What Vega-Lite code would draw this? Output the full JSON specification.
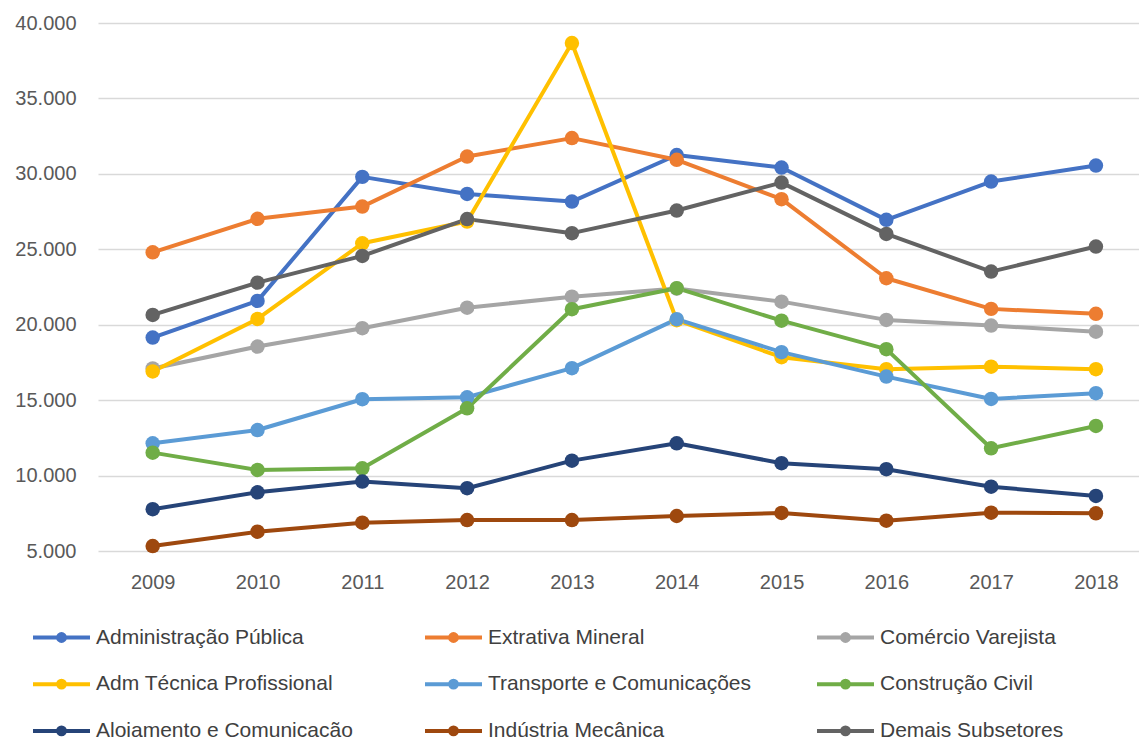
{
  "$schema": "https://vega.github.io/schema/vega-lite/v6.json",
  "autosize": {"type": "none"},
  "padding": {"left": 98, "top": 23, "right": 0, "bottom": 186},
  "width": 1041,
  "height": 528,
  "background": "white",
  "config": {
    "view": {"stroke": null},
    "font": "Liberation Sans"
  },
  "data": {
    "values": [
      {"year": 2009, "serie": "Administração Pública", "value": 19150},
      {"year": 2010, "serie": "Administração Pública", "value": 21580},
      {"year": 2011, "serie": "Administração Pública", "value": 29800},
      {"year": 2012, "serie": "Administração Pública", "value": 28670},
      {"year": 2013, "serie": "Administração Pública", "value": 28160},
      {"year": 2014, "serie": "Administração Pública", "value": 31250},
      {"year": 2015, "serie": "Administração Pública", "value": 30420},
      {"year": 2016, "serie": "Administração Pública", "value": 26950},
      {"year": 2017, "serie": "Administração Pública", "value": 29490},
      {"year": 2018, "serie": "Administração Pública", "value": 30550},
      {"year": 2009, "serie": "Extrativa Mineral", "value": 24800},
      {"year": 2010, "serie": "Extrativa Mineral", "value": 27020},
      {"year": 2011, "serie": "Extrativa Mineral", "value": 27830},
      {"year": 2012, "serie": "Extrativa Mineral", "value": 31150},
      {"year": 2013, "serie": "Extrativa Mineral", "value": 32370},
      {"year": 2014, "serie": "Extrativa Mineral", "value": 30930},
      {"year": 2015, "serie": "Extrativa Mineral", "value": 28320},
      {"year": 2016, "serie": "Extrativa Mineral", "value": 23080},
      {"year": 2017, "serie": "Extrativa Mineral", "value": 21050},
      {"year": 2018, "serie": "Extrativa Mineral", "value": 20720},
      {"year": 2009, "serie": "Comércio Varejista", "value": 17100},
      {"year": 2010, "serie": "Comércio Varejista", "value": 18550},
      {"year": 2011, "serie": "Comércio Varejista", "value": 19770},
      {"year": 2012, "serie": "Comércio Varejista", "value": 21130},
      {"year": 2013, "serie": "Comércio Varejista", "value": 21860},
      {"year": 2014, "serie": "Comércio Varejista", "value": 22400},
      {"year": 2015, "serie": "Comércio Varejista", "value": 21530},
      {"year": 2016, "serie": "Comércio Varejista", "value": 20320},
      {"year": 2017, "serie": "Comércio Varejista", "value": 19940},
      {"year": 2018, "serie": "Comércio Varejista", "value": 19540},
      {"year": 2009, "serie": "Adm Técnica Profissional", "value": 16900},
      {"year": 2010, "serie": "Adm Técnica Profissional", "value": 20380},
      {"year": 2011, "serie": "Adm Técnica Profissional", "value": 25400},
      {"year": 2012, "serie": "Adm Técnica Profissional", "value": 26840},
      {"year": 2013, "serie": "Adm Técnica Profissional", "value": 38670},
      {"year": 2014, "serie": "Adm Técnica Profissional", "value": 20300},
      {"year": 2015, "serie": "Adm Técnica Profissional", "value": 17850},
      {"year": 2016, "serie": "Adm Técnica Profissional", "value": 17050},
      {"year": 2017, "serie": "Adm Técnica Profissional", "value": 17220},
      {"year": 2018, "serie": "Adm Técnica Profissional", "value": 17050},
      {"year": 2009, "serie": "Transporte e Comunicações", "value": 12140},
      {"year": 2010, "serie": "Transporte e Comunicações", "value": 13020},
      {"year": 2011, "serie": "Transporte e Comunicações", "value": 15060},
      {"year": 2012, "serie": "Transporte e Comunicações", "value": 15190},
      {"year": 2013, "serie": "Transporte e Comunicações", "value": 17120},
      {"year": 2014, "serie": "Transporte e Comunicações", "value": 20370},
      {"year": 2015, "serie": "Transporte e Comunicações", "value": 18180},
      {"year": 2016, "serie": "Transporte e Comunicações", "value": 16560},
      {"year": 2017, "serie": "Transporte e Comunicações", "value": 15080},
      {"year": 2018, "serie": "Transporte e Comunicações", "value": 15460},
      {"year": 2009, "serie": "Construção Civil", "value": 11520},
      {"year": 2010, "serie": "Construção Civil", "value": 10370},
      {"year": 2011, "serie": "Construção Civil", "value": 10480},
      {"year": 2012, "serie": "Construção Civil", "value": 14460},
      {"year": 2013, "serie": "Construção Civil", "value": 21030},
      {"year": 2014, "serie": "Construção Civil", "value": 22420},
      {"year": 2015, "serie": "Construção Civil", "value": 20270},
      {"year": 2016, "serie": "Construção Civil", "value": 18380},
      {"year": 2017, "serie": "Construção Civil", "value": 11810},
      {"year": 2018, "serie": "Construção Civil", "value": 13290},
      {"year": 2009, "serie": "Alojamento e Comunicação", "value": 7770},
      {"year": 2010, "serie": "Alojamento e Comunicação", "value": 8890},
      {"year": 2011, "serie": "Alojamento e Comunicação", "value": 9600},
      {"year": 2012, "serie": "Alojamento e Comunicação", "value": 9160},
      {"year": 2013, "serie": "Alojamento e Comunicação", "value": 10990},
      {"year": 2014, "serie": "Alojamento e Comunicação", "value": 12140},
      {"year": 2015, "serie": "Alojamento e Comunicação", "value": 10820},
      {"year": 2016, "serie": "Alojamento e Comunicação", "value": 10420},
      {"year": 2017, "serie": "Alojamento e Comunicação", "value": 9260},
      {"year": 2018, "serie": "Alojamento e Comunicação", "value": 8650},
      {"year": 2009, "serie": "Indústria Mecânica", "value": 5330},
      {"year": 2010, "serie": "Indústria Mecânica", "value": 6280},
      {"year": 2011, "serie": "Indústria Mecânica", "value": 6880},
      {"year": 2012, "serie": "Indústria Mecânica", "value": 7050},
      {"year": 2013, "serie": "Indústria Mecânica", "value": 7050},
      {"year": 2014, "serie": "Indústria Mecânica", "value": 7320},
      {"year": 2015, "serie": "Indústria Mecânica", "value": 7520},
      {"year": 2016, "serie": "Indústria Mecânica", "value": 7010},
      {"year": 2017, "serie": "Indústria Mecânica", "value": 7540},
      {"year": 2018, "serie": "Indústria Mecânica", "value": 7500},
      {"year": 2009, "serie": "Demais Subsetores", "value": 20650},
      {"year": 2010, "serie": "Demais Subsetores", "value": 22790},
      {"year": 2011, "serie": "Demais Subsetores", "value": 24560},
      {"year": 2012, "serie": "Demais Subsetores", "value": 27000},
      {"year": 2013, "serie": "Demais Subsetores", "value": 26070},
      {"year": 2014, "serie": "Demais Subsetores", "value": 27570},
      {"year": 2015, "serie": "Demais Subsetores", "value": 29420},
      {"year": 2016, "serie": "Demais Subsetores", "value": 26020},
      {"year": 2017, "serie": "Demais Subsetores", "value": 23520},
      {"year": 2018, "serie": "Demais Subsetores", "value": 25180}
    ]
  },
  "encoding": {
    "x": {
      "field": "year",
      "type": "quantitative",
      "scale": {"domain": [2008.478, 2018.411], "nice": false, "zero": false},
      "axis": {
        "title": null,
        "values": [2009, 2010, 2011, 2012, 2013, 2014, 2015, 2016, 2017, 2018],
        "format": "d",
        "grid": false,
        "ticks": false,
        "domain": false,
        "labelFont": "Liberation Sans",
        "labelFontSize": 20,
        "labelColor": "#595959",
        "labelPadding": 21
      }
    },
    "y": {
      "field": "value",
      "type": "quantitative",
      "scale": {"domain": [5000, 40000], "nice": false, "zero": false},
      "axis": {
        "title": null,
        "values": [5000, 10000, 15000, 20000, 25000, 30000, 35000, 40000],
        "labelExpr": "replace(format(datum.value, ',.0f'), ',', '.')",
        "grid": true,
        "gridColor": "#D9D9D9",
        "gridWidth": 1.3,
        "ticks": false,
        "domain": false,
        "labelFont": "Liberation Sans",
        "labelFontSize": 20,
        "labelColor": "#595959",
        "labelPadding": 22
      }
    },
    "color": {
      "field": "serie",
      "type": "nominal",
      "scale": {
        "domain": ["Administração Pública", "Extrativa Mineral", "Comércio Varejista", "Adm Técnica Profissional", "Transporte e Comunicações", "Construção Civil", "Alojamento e Comunicação", "Indústria Mecânica", "Demais Subsetores"],
        "range": ["#4472C4", "#ED7D31", "#A5A5A5", "#FFC000", "#5B9BD5", "#70AD47", "#264478", "#9E480E", "#636363"]
      },
      "legend": {
        "title": null,
        "orient": "none",
        "legendX": -67,
        "legendY": 584,
        "columns": 3,
        "direction": "horizontal",
        "gridAlign": "all",
        "columnPadding": 57,
        "rowPadding": 4.7,
        "padding": 0,
        "labelFont": "Liberation Sans",
        "labelFontSize": 21,
        "labelColor": "#404040",
        "labelOffset": 4,
        "labelLimit": 400,
        "symbolType": "M-1,0L1,0M-0.12,0A0.12,0.12,0,1,1,0.12,0A0.12,0.12,0,1,1,-0.12,0Z",
        "symbolSize": 3249,
        "symbolStrokeWidth": 4,
        "symbolOpacity": 1,
        "encode": {
          "symbols": {
            "update": {
              "fill": {"scale": "color", "field": "value"},
              "stroke": {"scale": "color", "field": "value"},
              "opacity": {"value": 1}
            }
          }
        }
      }
    }
  },
  "layer": [
    {
      "mark": {"type": "line", "strokeWidth": 4, "strokeCap": "round", "strokeJoin": "round"}
    },
    {
      "mark": {"type": "point", "filled": true, "shape": "circle", "size": 210, "opacity": 1}
    }
  ]
}
